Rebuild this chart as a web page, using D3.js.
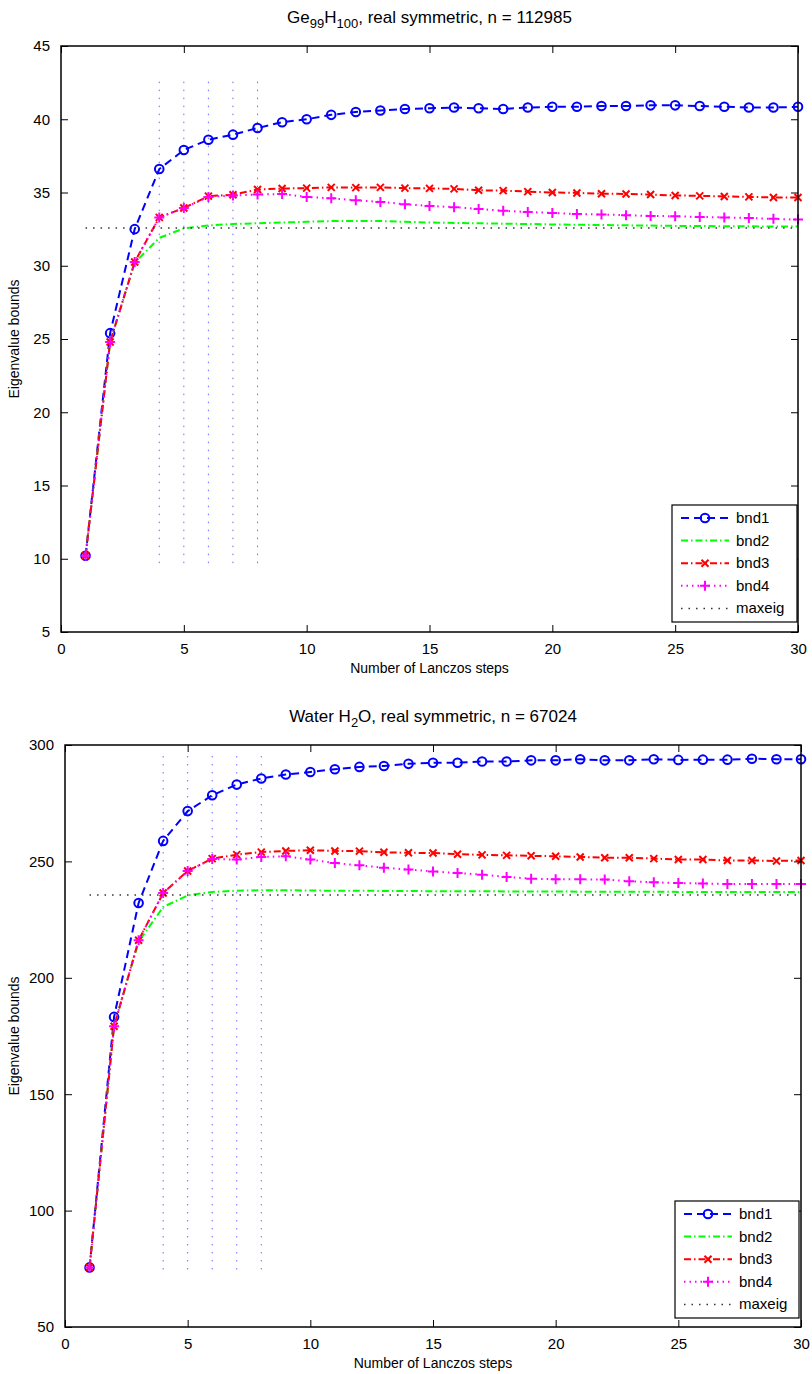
<!DOCTYPE html>
<html>
<head>
<meta charset="utf-8">
<title>Eigenvalue bounds</title>
<script src="https://d3js.org/d3.v7.min.js"></script>
<style>
  body { margin: 0; background: #fff; }
  svg { display: block; font-family: "Liberation Sans", Arial, sans-serif; }
  .tick text { font-size: 15px; fill: #000; }
  .legend text { font-size: 15px; }
</style>
</head>
<body>
<div id="chart"></div>
<script>
var steps = d3.range(1, 31);
var seriesNames = ['bnd1', 'bnd2', 'bnd3', 'bnd4', 'maxeig'];

// Ge99H100 panel
var geBnd1 = [10.2, 25.4, 32.5, 36.6, 37.9, 38.6, 38.95, 39.4, 39.8, 40.0,
  40.3, 40.5, 40.6, 40.7, 40.75, 40.8, 40.75, 40.7, 40.8, 40.85,
  40.85, 40.9, 40.9, 40.95, 40.95, 40.9, 40.85, 40.8, 40.8, 40.85];
var geBnd2 = [10.2, 24.8, 30.2, 31.9, 32.55, 32.75, 32.85, 32.9, 32.95, 33.0,
  33.05, 33.05, 33.05, 33.0, 32.95, 32.92, 32.9, 32.87, 32.85, 32.82,
  32.8, 32.78, 32.76, 32.74, 32.72, 32.71, 32.7, 32.69, 32.68, 32.68];
var geBnd3 = [10.2, 24.8, 30.26, 33.3, 33.94, 34.75, 34.85, 35.2, 35.27, 35.3,
  35.35, 35.33, 35.35, 35.3, 35.28, 35.25, 35.15, 35.13, 35.06, 35.0,
  34.97, 34.92, 34.9, 34.86, 34.8, 34.77, 34.73, 34.7, 34.66, 34.66];
var geBnd4 = [10.2, 24.8, 30.26, 33.3, 33.94, 34.7, 34.8, 34.86, 34.9, 34.7,
  34.6, 34.47, 34.36, 34.2, 34.08, 34.0, 33.88, 33.75, 33.67, 33.6,
  33.53, 33.5, 33.45, 33.4, 33.38, 33.33, 33.3, 33.26, 33.2, 33.15];
var geMaxeig = 32.58;
var geMarks = [4, 5, 6, 7, 8];
var geMarkRange = [9.7, 42.8];
var geYTicks = [5, 10, 15, 20, 25, 30, 35, 40, 45];

// Water H2O panel
var h2oBnd1 = [75.6, 183.2, 232.1, 258.8, 271.6, 278.4, 283.0, 285.6, 287.3, 288.4,
  289.6, 290.6, 291.0, 291.9, 292.4, 292.4, 292.9, 292.9, 293.4, 293.4,
  293.9, 293.4, 293.4, 293.9, 293.6, 293.7, 293.7, 294.1, 293.9, 293.9];
var h2oBnd2 = [75.6, 179.2, 215.5, 230.4, 235.4, 236.9, 237.4, 237.6, 237.6, 237.5,
  237.4, 237.4, 237.3, 237.3, 237.2, 237.2, 237.2, 237.1, 237.1, 237.1,
  237.0, 237.0, 237.0, 237.0, 236.9, 236.9, 236.9, 236.9, 236.9, 236.9];
var h2oBnd3 = [75.6, 179.2, 216.1, 236.4, 245.9, 251.2, 252.9, 254.0, 254.5, 254.8,
  254.5, 254.4, 253.9, 253.7, 253.6, 253.1, 252.8, 252.6, 252.4, 252.2,
  251.9, 251.6, 251.6, 251.2, 250.8, 250.8, 250.4, 250.4, 250.2, 250.4];
var h2oBnd4 = [75.6, 179.2, 216.1, 236.4, 245.9, 251.0, 250.8, 251.9, 252.2, 250.8,
  249.3, 248.3, 247.3, 246.5, 245.7, 245.0, 244.3, 243.3, 242.6, 242.3,
  242.3, 242.2, 241.5, 241.0, 240.7, 240.5, 240.3, 240.3, 240.3, 240.3];
var h2oMaxeig = 235.6;
var h2oMarks = [4, 5, 6, 7, 8];
var h2oMarkRange = [74.7, 295.6];
var h2oYTicks = [50, 100, 150, 200, 250, 300];

var xTicks = [0, 5, 10, 15, 20, 25, 30];

var styles = {
  bnd1: { color: '#0000ff', dash: '8,5', marker: 'circle' },
  bnd2: { color: '#00ff00', dash: '7,3,1.5,3', marker: null },
  bnd3: { color: '#ff0000', dash: '7,3,1.5,3', marker: 'x' },
  bnd4: { color: '#ff00ff', dash: '1.5,4', marker: 'plus' },
  maxeig: { color: '#333', dash: '1.5,6', marker: null }
};

var svg = d3.select('#chart').append('svg')
  .attr('width', 812)
  .attr('height', 1374);

function drawMarker(g, type, cx, cy, color) {
  if (type === 'circle') {
    g.append('circle').attr('cx', cx).attr('cy', cy).attr('r', 4.3)
      .attr('fill', 'none').attr('stroke', color).attr('stroke-width', 2);
  } else if (type === 'x') {
    var s = 3.5;
    g.append('path')
      .attr('d', 'M' + (cx - s) + ',' + (cy - s) + 'L' + (cx + s) + ',' + (cy + s) +
        'M' + (cx - s) + ',' + (cy + s) + 'L' + (cx + s) + ',' + (cy - s))
      .attr('stroke', color).attr('stroke-width', 2);
  } else if (type === 'plus') {
    var p = 5;
    g.append('path')
      .attr('d', 'M' + (cx - p) + ',' + cy + 'L' + (cx + p) + ',' + cy +
        'M' + cx + ',' + (cy - p) + 'L' + cx + ',' + (cy + p))
      .attr('stroke', color).attr('stroke-width', 2);
  }
}

function drawPanel(cfg) {
  var x = d3.scaleLinear().domain([0, 30]).range([cfg.left, cfg.right]);
  var y = d3.scaleLinear().domain(cfg.yDomain).range([cfg.bottom, cfg.top]);
  var g = svg.append('g');

  // marker lines at selected steps
  cfg.marks.forEach(function(m) {
    g.append('line')
      .attr('x1', x(m)).attr('x2', x(m))
      .attr('y1', y(cfg.markRange[0])).attr('y2', y(cfg.markRange[1]))
      .attr('stroke', '#3c3cff').attr('stroke-opacity', 0.75).attr('stroke-width', 1)
      .attr('stroke-dasharray', '1.5,6.5');
  });

  var line = d3.line()
    .x(function(d, i) { return x(steps[i]); })
    .y(function(d) { return y(d); });

  var data = { bnd1: cfg.bnd1, bnd2: cfg.bnd2, bnd3: cfg.bnd3, bnd4: cfg.bnd4 };
  ['bnd1', 'bnd2', 'bnd3', 'bnd4'].forEach(function(name) {
    var st = styles[name];
    g.append('path')
      .attr('d', line(data[name]))
      .attr('fill', 'none')
      .attr('stroke', st.color)
      .attr('stroke-width', 2)
      .attr('stroke-dasharray', st.dash);
    if (st.marker) {
      data[name].forEach(function(v, i) {
        drawMarker(g, st.marker, x(steps[i]), y(v), st.color);
      });
    }
  });

  g.append('line')
    .attr('x1', x(1)).attr('x2', x(30))
    .attr('y1', y(cfg.maxeig)).attr('y2', y(cfg.maxeig))
    .attr('stroke', styles.maxeig.color).attr('stroke-width', 1.5)
    .attr('stroke-dasharray', styles.maxeig.dash);

  // axes with inward ticks, mirrored on top and right
  var tl = 7;
  g.append('g').attr('transform', 'translate(0,' + cfg.bottom + ')')
    .call(d3.axisBottom(x).tickValues(xTicks).tickSizeInner(-tl).tickSizeOuter(0).tickPadding(tl + 4))
    .call(function(a) { a.select('.domain').remove(); });
  g.append('g').attr('transform', 'translate(0,' + cfg.top + ')')
    .call(d3.axisTop(x).tickValues(xTicks).tickSizeInner(-tl).tickSizeOuter(0).tickFormat(''))
    .call(function(a) { a.select('.domain').remove(); });
  g.append('g').attr('transform', 'translate(' + cfg.left + ',0)')
    .call(d3.axisLeft(y).tickValues(cfg.yTicks).tickSizeInner(-tl).tickSizeOuter(0).tickPadding(tl + 4))
    .call(function(a) { a.select('.domain').remove(); });
  g.append('g').attr('transform', 'translate(' + cfg.right + ',0)')
    .call(d3.axisRight(y).tickValues(cfg.yTicks).tickSizeInner(-tl).tickSizeOuter(0).tickFormat(''))
    .call(function(a) { a.select('.domain').remove(); });
  g.selectAll('.tick line').attr('stroke', '#000').attr('stroke-width', 1);

  g.append('rect')
    .attr('x', cfg.left).attr('y', cfg.top)
    .attr('width', cfg.right - cfg.left).attr('height', cfg.bottom - cfg.top)
    .attr('fill', 'none').attr('stroke', '#000').attr('stroke-width', 1.5);

  // title
  var t = svg.append('text')
    .attr('x', (cfg.left + cfg.right) / 2).attr('y', cfg.top - 23)
    .attr('text-anchor', 'middle').attr('font-size', 17);
  cfg.title.forEach(function(part) {
    var ts = t.append('tspan').text(part.s);
    if (part.sub) ts.attr('font-size', 13).attr('dy', 5);
    else if (part.back) ts.attr('dy', -5);
  });

  svg.append('text')
    .attr('x', (cfg.left + cfg.right) / 2).attr('y', cfg.bottom + 41)
    .attr('text-anchor', 'middle').attr('font-size', 14)
    .text('Number of Lanczos steps');
  svg.append('text')
    .attr('transform', 'translate(19,' + ((cfg.top + cfg.bottom) / 2) + ') rotate(-90)')
    .attr('text-anchor', 'middle').attr('font-size', 14)
    .text('Eigenvalue bounds');

  // legend
  var lg = svg.append('g').attr('class', 'legend');
  lg.append('rect')
    .attr('x', cfg.legend.x).attr('y', cfg.legend.y)
    .attr('width', cfg.legend.w).attr('height', cfg.legend.h)
    .attr('fill', '#fff').attr('stroke', '#000').attr('stroke-width', 1.2);
  seriesNames.forEach(function(name, i) {
    var st = styles[name];
    var ly = cfg.legend.y + 13 + i * 22.6;
    var x0 = cfg.legend.x + 9, x1 = cfg.legend.x + 57;
    lg.append('line')
      .attr('x1', x0).attr('x2', x1).attr('y1', ly).attr('y2', ly)
      .attr('stroke', st.color)
      .attr('stroke-width', name === 'maxeig' ? 1.5 : 2)
      .attr('stroke-dasharray', st.dash);
    if (st.marker) drawMarker(lg, st.marker, (x0 + x1) / 2, ly, st.color);
    lg.append('text')
      .attr('x', x1 + 7).attr('y', ly + 5)
      .text(name);
  });
}

drawPanel({
  left: 61, right: 798, top: 46, bottom: 632,
  yDomain: [5, 45], yTicks: geYTicks,
  bnd1: geBnd1, bnd2: geBnd2, bnd3: geBnd3, bnd4: geBnd4,
  maxeig: geMaxeig, marks: geMarks, markRange: geMarkRange,
  title: [{ s: 'Ge' }, { s: '99', sub: true }, { s: 'H', back: true },
    { s: '100', sub: true }, { s: ', real symmetric, n = 112985', back: true }],
  legend: { x: 672, y: 505, w: 125, h: 117 }
});

drawPanel({
  left: 65, right: 801, top: 745, bottom: 1327,
  yDomain: [50, 300], yTicks: h2oYTicks,
  bnd1: h2oBnd1, bnd2: h2oBnd2, bnd3: h2oBnd3, bnd4: h2oBnd4,
  maxeig: h2oMaxeig, marks: h2oMarks, markRange: h2oMarkRange,
  title: [{ s: 'Water H' }, { s: '2', sub: true }, { s: 'O, real symmetric, n = 67024', back: true }],
  legend: { x: 675, y: 1201, w: 124, h: 117 }
});
</script>
</body>
</html>
